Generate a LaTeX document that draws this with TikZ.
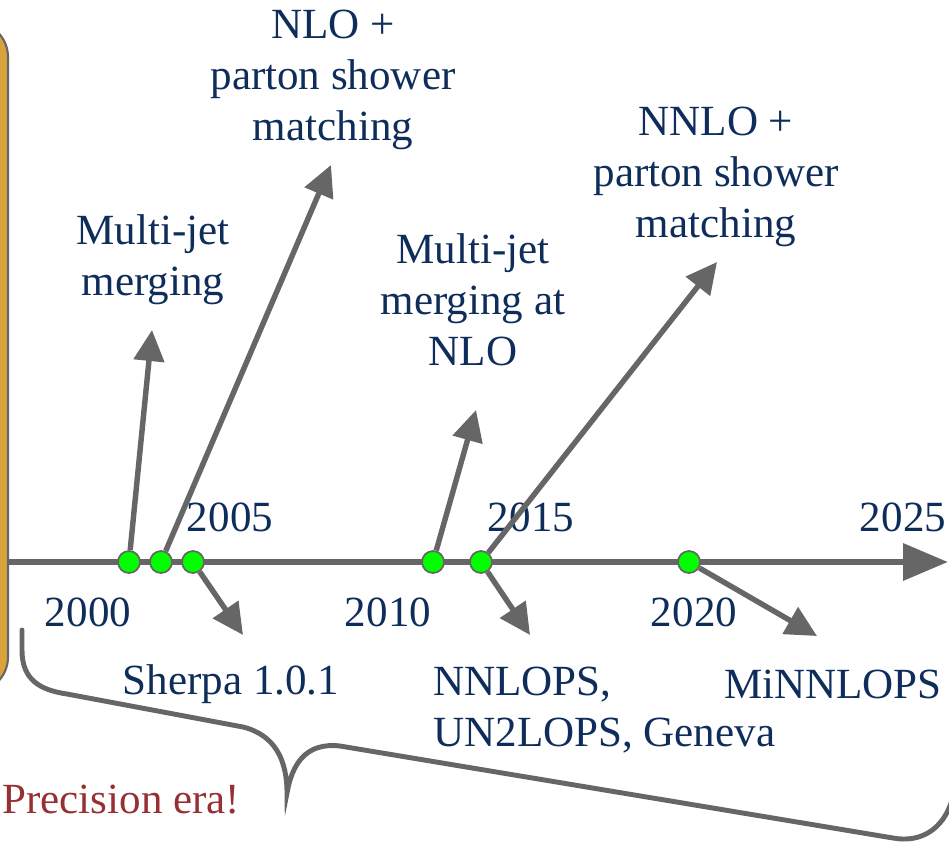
\documentclass[tikz,border=0pt]{standalone}
\usepackage{fontspec}
\setmainfont{Liberation Serif}
\usetikzlibrary{arrows.meta,positioning}

\definecolor{navytext}{RGB}{14,45,90}
\definecolor{linegray}{RGB}{102,102,102}
\definecolor{boxgold}{RGB}{217,162,58}
\definecolor{erared}{RGB}{150,48,50}

\begin{document}
\begin{tikzpicture}[x=0.02cm, y=-0.02cm,
    event/.style={shape=circle, draw=linegray, fill=green, line width=1pt,
      minimum size=0.44cm, inner sep=0pt},
    lbl/.style={text=navytext, align=center, inner sep=0pt,
      font=\fontsize{24.5}{29}\selectfont},
    pointer/.style={color=linegray, line width=3.1pt,
      -{Triangle[length=0.62cm,width=0.6cm]}}]
      \useasboundingbox (0,0) rectangle (949,844);

      % side panel and time axis
      \draw[fill=boxgold, draw=linegray, line width=1.2pt, rounded corners=0.7cm]
           (-80,22) rectangle (8,692);
      \coordinate (tlstart) at (8,562);
      \coordinate (tlend) at (948,562);
      \draw[color=linegray, line width=3.8pt,
            -{Triangle[length=0.9cm,width=0.72cm]}] (tlstart) -- (tlend);

      % events
      \node[event] (Mj)     at (129,562) {};
      \node[event] (Nlops)  at (161,562) {};
      \node[event] (Sherpa) at (193,562) {};
      \node[event] (MjNlo)  at (433,562) {};
      \node[event] (Nnlops) at (481,562) {};
      \node[event] (Minlo)  at (689,562) {};

      % years
      \node[lbl] (y2000) at (88,612) {2000};
      \node[lbl] (y2005) at (230,517) {2005};
      \node[lbl] (y2010) at (388,612) {2010};
      \node[lbl] (y2015) at (531,517) {2015};
      \node[lbl] (y2020) at (694,612) {2020};
      \node[lbl] (y2025) at (903,517) {2025};

      % arrow ends
      \coordinate (MjTip)     at (152,330);
      \coordinate (NlopsTip)  at (331,165);
      \coordinate (SherpaTip) at (243,635);
      \coordinate (MjNloTip)  at (476,410);
      \coordinate (NnloTip)   at (717,262);
      \coordinate (NnlopsTip) at (530,635);
      \coordinate (MinloTip)  at (817,636);

      \path [pointer] (Mj) edge (MjTip);
      \path [pointer] (Nlops) edge (NlopsTip);
      \path [pointer] (Sherpa) edge (SherpaTip);
      \path [pointer] (MjNlo) edge (MjNloTip);
      \path [pointer] (Nnlops) edge (NnloTip);
      \path [pointer] (Nnlops) edge (NnlopsTip);
      \path [pointer] (Minlo) edge (MinloTip);

      % what happened
      \node[lbl] (MjTxt) at (153,260) {Multi-jet\\merging};
      \node[lbl] (NlopsTxt) at (333,80) {NLO +\\parton shower\\matching};
      \node[lbl] (MjNloTxt) at (473,300) {Multi-jet\\merging at\\NLO};
      \node[lbl] (NnloTxt) at (716,177) {NNLO +\\parton shower\\matching};
      \node[lbl] (SherpaTxt) at (231,684) {Sherpa 1.0.1};
      \node[lbl, align=left, anchor=west] (NnlopsTxt) at (433,710)
           {NNLOPS,\\UN2LOPS, Geneva};
      \node[lbl] (MinloTxt) at (833,684) {MiNNLOPS};

      % brace
      \draw[draw=linegray, line width=2.8pt, line cap=round]
           (22,630) -- (22,650) .. controls (22,680) and (40,690) .. (67,694)
           -- (243,727) .. controls (275,735) and (287,760) .. (287,793)
           .. controls (292,765) and (305,742) .. (340,746)
           -- (893,838) .. controls (920,843) and (943,830) .. (952,800);

      \node[lbl, text=erared, anchor=west] (Era) at (2,800) {Precision era!};
  \end{tikzpicture}
\end{document}
